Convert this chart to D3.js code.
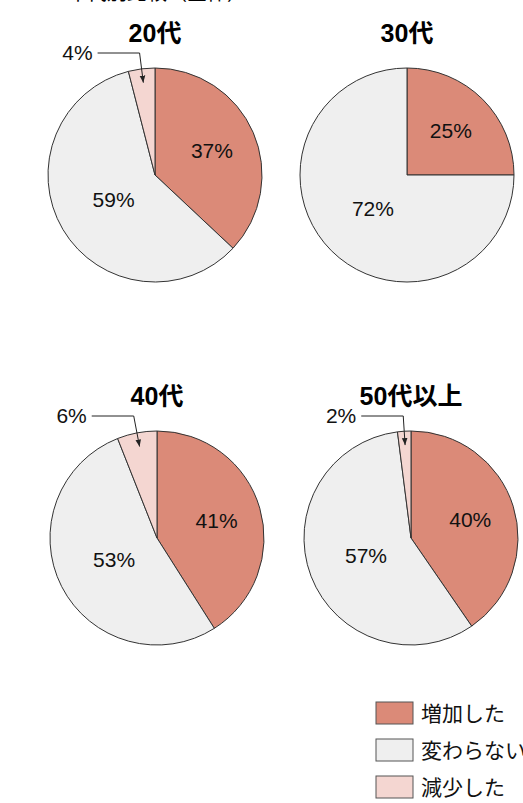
<!DOCTYPE html>
<html>
<head>
<meta charset="utf-8">
<script src="https://cdn.jsdelivr.net/npm/d3@7"></script>
<style>
body { margin: 0; background: #fff; }
svg { display: block; }
</style>
</head>
<body>
<svg width="523" height="803"></svg>
<script>
// categories (legend order = slice order, clockwise from 12 o'clock)
var categories = ["増加した", "変わらない", "減少した"];
var colors = ["#db8a78", "#efefef", "#f4d6d1"];

// one pie per age group
var groups = ["20代", "30代", "40代", "50代以上"];
var increased = [37, 25, 41, 40];
var unchanged = [59, 75, 53, 57];
var decreased = [4, 0, 6, 2];
// printed labels (30代 prints 72% although the slice fills 3/4)
var labelIncreased = ["37%", "25%", "41%", "40%"];
var labelUnchanged = ["59%", "72%", "53%", "57%"];
var labelDecreased = ["4%", "", "6%", "2%"];

var svg = d3.select('svg');
var R = 107;
var centers = [[155, 175], [407, 175], [157, 538], [411, 538]];

// cut off title at top of the picture
svg.append('text')
  .attr('x', 67).attr('y', 0)
  .attr('font-family', '"Noto Sans CJK JP", sans-serif')
  .attr('font-size', 20)
  .text('年代別比較（全体）');

var pie = d3.pie().sort(null);
var arc = d3.arc().innerRadius(0).outerRadius(R);

svg.append('defs').append('marker')
  .attr('id', 'arrow')
  .attr('viewBox', '0 0 10 10')
  .attr('refX', 10).attr('refY', 5)
  .attr('markerWidth', 7).attr('markerHeight', 7)
  .attr('orient', 'auto')
  .append('path').attr('d', 'M0,1 L10,5 L0,9 Z').attr('fill', '#222');

groups.forEach(function(name, i) {
  var vals = [increased[i], unchanged[i], decreased[i]];
  var labels = [labelIncreased[i], labelUnchanged[i], labelDecreased[i]];
  var total = d3.sum(vals);
  var g = svg.append('g')
    .attr('transform', 'translate(' + centers[i][0] + ',' + centers[i][1] + ')');

  g.append('text')
    .attr('x', 0).attr('y', -133)
    .attr('text-anchor', 'middle')
    .attr('font-family', '"Liberation Sans", "Noto Sans CJK JP", sans-serif')
    .attr('font-weight', 'bold')
    .attr('font-size', 25)
    .text(name);

  var arcs = pie(vals);
  g.selectAll('path.slice')
    .data(arcs.filter(function(d) { return d.value > 0; }))
    .enter()
    .append('path')
    .attr('class', 'slice')
    .attr('d', arc)
    .attr('fill', function(d) { return colors[d.index]; })
    .attr('stroke', '#333')
    .attr('stroke-width', 1);

  arcs.forEach(function(d) {
    if (d.value <= 0) return;
    var a = (d.startAngle + d.endAngle) / 2;
    var share = d.value / total;
    if (share >= 0.1) {
      var r = share > 0.45 ? 0.45 * R : 0.58 * R;
      g.append('text')
        .attr('x', r * Math.sin(a))
        .attr('y', -r * Math.cos(a))
        .attr('dy', '0.35em')
        .attr('text-anchor', 'middle')
        .attr('font-family', '"Liberation Sans", Arial, sans-serif')
        .attr('font-size', 21)
        .attr('fill', '#111')
        .text(labels[d.index]);
    } else {
      // small slice: leader line with arrow from a label above-left
      var ly = -R - 15;
      var ex = -ly * Math.tan(a);
      var tip = 0.87 * R;
      g.append('polyline')
        .attr('points', [[ex - 42, ly], [ex, ly], [tip * Math.sin(a), -tip * Math.cos(a)]].join(' '))
        .attr('fill', 'none')
        .attr('stroke', '#222')
        .attr('stroke-width', 1)
        .attr('marker-end', 'url(#arrow)');
      g.append('text')
        .attr('x', ex - 47).attr('y', ly)
        .attr('dy', '0.35em')
        .attr('text-anchor', 'end')
        .attr('font-family', '"Liberation Sans", Arial, sans-serif')
        .attr('font-size', 21)
        .attr('fill', '#111')
        .text(labels[d.index]);
    }
  });
});

// legend
var legend = svg.append('g').attr('transform', 'translate(376,702)');
var item = legend.selectAll('g')
  .data(categories)
  .enter()
  .append('g')
  .attr('transform', function(d, i) { return 'translate(0,' + (i * 37) + ')'; });
item.append('rect')
  .attr('width', 37).attr('height', 22)
  .attr('fill', function(d, i) { return colors[i]; })
  .attr('stroke', '#555')
  .attr('stroke-width', 1);
item.append('text')
  .attr('x', 45).attr('y', 11)
  .attr('dy', '0.36em')
  .attr('font-family', '"Noto Sans CJK JP", sans-serif')
  .attr('font-size', 21)
  .attr('fill', '#111')
  .text(function(d) { return d; });
</script>
</body>
</html>
